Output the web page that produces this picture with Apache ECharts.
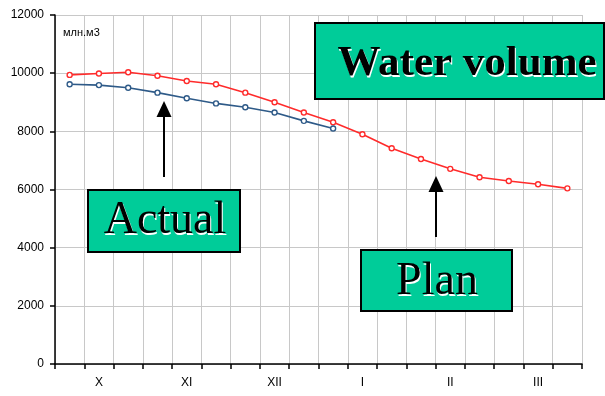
<!DOCTYPE html>
<html>
<head>
<meta charset="utf-8">
<script src="https://cdn.jsdelivr.net/npm/echarts@6/dist/echarts.min.js"></script>
<style>
  html, body { margin: 0; padding: 0; background: #fff; }
  #chart { width: 605px; height: 396px; }
</style>
</head>
<body>
<div id="chart"></div>
<script>
// Ten-day periods, October through March (three per month)
const decades = [
  'X-1', 'X-2', 'X-3', 'XI-1', 'XI-2', 'XI-3', 'XII-1', 'XII-2', 'XII-3',
  'I-1', 'I-2', 'I-3', 'II-1', 'II-2', 'II-3', 'III-1', 'III-2', 'III-3'
];
const months = ['X', 'XI', 'XII', 'I', 'II', 'III'];

// Reservoir volume, million m3
const planVolume = [9940, 9990, 10030, 9910, 9730, 9620, 9330, 9000, 8650,
                    8310, 7900, 7420, 7050, 6710, 6420, 6290, 6180, 6040];
const actualVolume = [9620, 9590, 9500, 9330, 9140, 8960, 8830, 8650, 8360, 8100];

const unitLabel = 'млн.м3';
const yTicks = { min: 0, max: 12000, step: 2000 };

const axisFont = '"Liberation Sans", Arial, sans-serif';
const serif = '"Liberation Serif", "Times New Roman", serif';
const boxFill = '#00CC99';

// Green caption box with embossed serif text (white copy drawn slightly offset behind)
function labelBox(x, y, w, h, text, cx, cy, size, bold) {
  const font = (bold ? 'bold ' : '') + size + 'px ' + serif;
  return [
    { type: 'rect', shape: { x: x, y: y, width: w, height: h },
      style: { fill: boxFill, stroke: '#000', lineWidth: 2 }, z: 10 },
    { type: 'text', x: cx + 1, y: cy + 1.5, z: 11,
      style: { text: text, fill: '#fff', font: font, textAlign: 'center', textVerticalAlign: 'middle' } },
    { type: 'text', x: cx, y: cy, z: 12,
      style: { text: text, fill: '#000', font: font, textAlign: 'center', textVerticalAlign: 'middle' } }
  ];
}

function upArrow(x, yTip, yTail) {
  return [
    { type: 'line', shape: { x1: x, y1: yTip + 10, x2: x, y2: yTail },
      style: { stroke: '#000', lineWidth: 2 }, z: 10 },
    { type: 'polygon', shape: { points: [[x, yTip], [x - 7.5, yTip + 16], [x + 7.5, yTip + 16]] },
      style: { fill: '#000' }, z: 10 }
  ];
}

const chart = echarts.init(document.getElementById('chart'), null, { renderer: 'canvas' });

const monthFormatter = (value, idx) => (idx % 3 === 1 ? months[Math.floor(idx / 3)] : '');

chart.setOption({
  animation: false,
  backgroundColor: '#fff',
  grid: { left: 55, right: 23, top: 15, bottom: 32, containLabel: false },
  xAxis: {
    type: 'category',
    data: decades,
    boundaryGap: true,
    axisLine: { lineStyle: { color: '#000', width: 1.5 } },
    axisTick: { show: true, interval: 0, length: 5, lineStyle: { color: '#000', width: 1.5 } },
    axisLabel: { interval: 0, formatter: monthFormatter, margin: 13,
                 fontFamily: axisFont, fontSize: 12, color: '#000' },
    splitLine: { show: true, interval: 0, lineStyle: { color: '#c8c8c8', width: 1 } }
  },
  yAxis: {
    type: 'value',
    min: yTicks.min, max: yTicks.max, interval: yTicks.step,
    axisLine: { show: true, lineStyle: { color: '#000', width: 1.5 } },
    axisTick: { show: true, length: 5, lineStyle: { color: '#000', width: 1.5 } },
    axisLabel: { margin: 11, fontFamily: axisFont, fontSize: 12, color: '#000',
                 formatter: (v) => String(v) },
    splitLine: { show: true, lineStyle: { color: '#c8c8c8', width: 1 } }
  },
  series: [
    {
      name: 'Plan', type: 'line', data: planVolume,
      symbol: 'circle', symbolSize: 5, showSymbol: true,
      lineStyle: { color: '#ff2b2b', width: 1.6 },
      itemStyle: { color: '#fff', borderColor: '#ff2b2b', borderWidth: 1.4 },
      z: 3
    },
    {
      name: 'Actual', type: 'line', data: actualVolume,
      symbol: 'circle', symbolSize: 5, showSymbol: true,
      lineStyle: { color: '#2e5a88', width: 1.6 },
      itemStyle: { color: '#fff', borderColor: '#2e5a88', borderWidth: 1.4 },
      z: 4
    }
  ],
  graphic: [
    { type: 'text', x: 63, y: 27, z: 10,
      style: { text: unitLabel, fill: '#000', font: '11px "Liberation Sans", Arial, sans-serif' } },
    ...labelBox(315, 23, 289, 76, 'Water volume', 467, 64, 43, true),
    ...labelBox(88, 190, 152, 62, 'Actual', 165, 221, 46, false),
    ...labelBox(361, 250, 151, 61, 'Plan', 437, 282, 46, false),
    ...upArrow(164, 101, 177),
    ...upArrow(436, 176, 237)
  ]
});
</script>
</body>
</html>
